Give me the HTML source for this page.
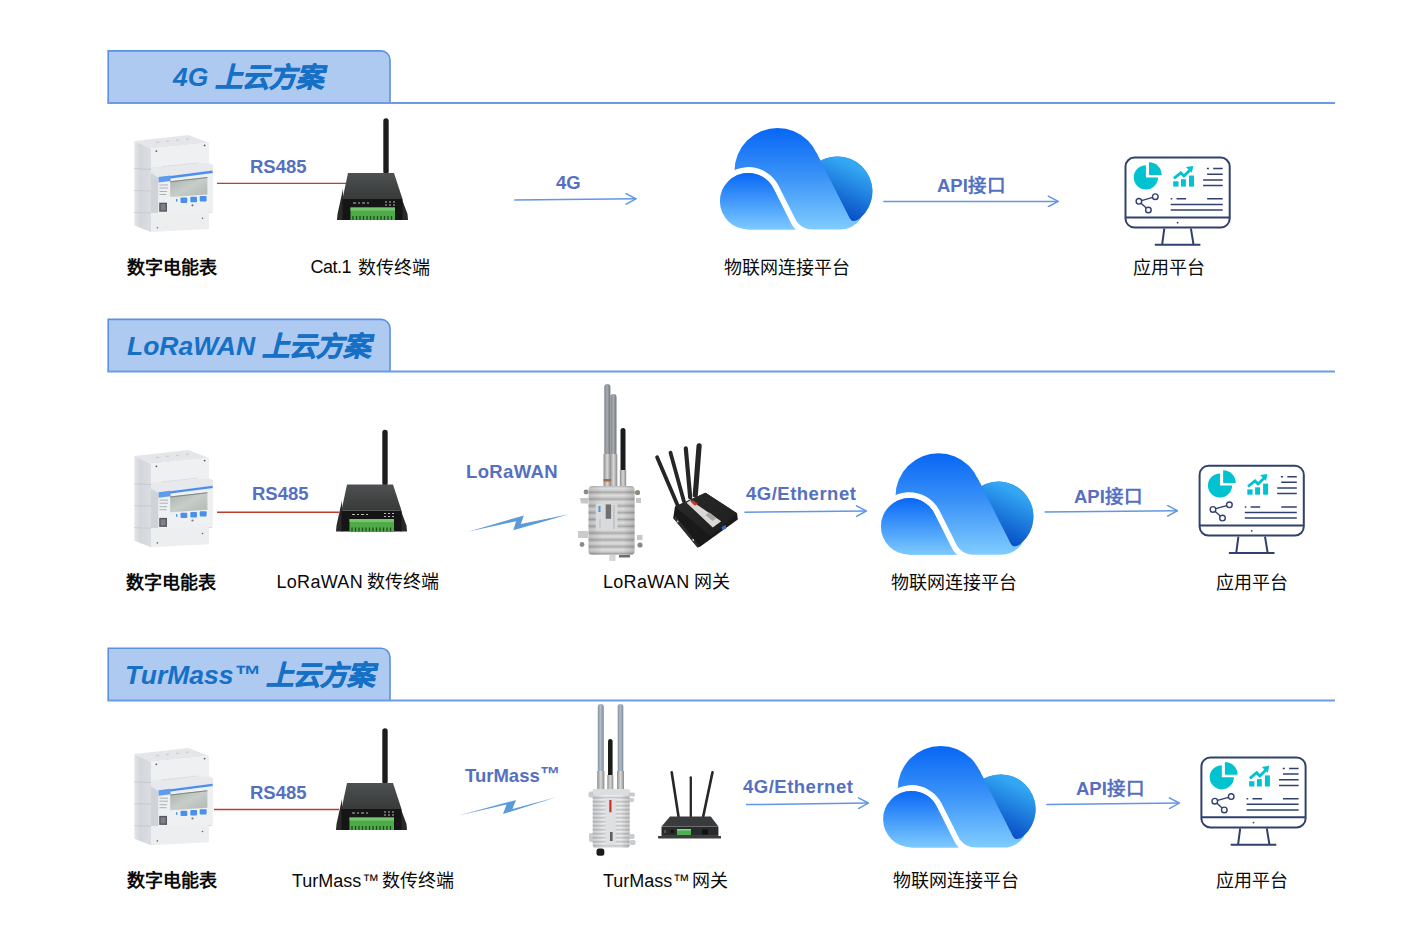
<!DOCTYPE html>
<html lang="zh-CN">
<head>
<meta charset="utf-8">
<style>
html,body{margin:0;padding:0;background:#ffffff;}
body{width:1417px;height:942px;overflow:hidden;position:relative;font-family:"Liberation Sans",sans-serif;}
svg{position:absolute;left:0;top:0;}
.lbl{font-family:"Liberation Sans",sans-serif;font-size:18px;fill:#0a0a0a;}
.b{font-weight:bold;}
.blue{font-family:"Liberation Sans",sans-serif;font-size:18.5px;font-weight:bold;fill:#5570c0;}
.tab{font-family:"Liberation Sans",sans-serif;font-size:26.5px;font-weight:bold;font-style:italic;fill:#1670c5;}
.cn{font-size:27.5px;font-weight:900;stroke:#1670c5;stroke-width:0.7px;}
</style>
</head>
<body>
<svg width="1417" height="942" viewBox="0 0 1417 942">
<defs>
  <!-- tab -->
  <g id="tabshape">
    <path d="M108.2,103 V50.9 H381 A9,9 0 0 1 390,59.9 V103" fill="#aecaf1" stroke="#5b91e2" stroke-width="1.6"/>
    <line x1="107.4" y1="103" x2="1335" y2="103" stroke="#6b9be4" stroke-width="2"/>
  </g>

  <linearGradient id="gMid" gradientUnits="userSpaceOnUse" x1="0" y1="8" x2="0" y2="110">
    <stop offset="0" stop-color="#0766f5"/><stop offset="0.5" stop-color="#3d95f7"/><stop offset="1" stop-color="#80cdff"/>
  </linearGradient>
  <linearGradient id="gLeft" gradientUnits="userSpaceOnUse" x1="0" y1="53" x2="0" y2="110">
    <stop offset="0" stop-color="#0868f5"/><stop offset="1" stop-color="#7ecbff"/>
  </linearGradient>
  <linearGradient id="gDark" gradientUnits="userSpaceOnUse" x1="152" y1="50" x2="128" y2="100">
    <stop offset="0" stop-color="#33a7f4"/><stop offset="1" stop-color="#0345c0"/>
  </linearGradient>
  <g id="cloud">
    <circle cx="67.5" cy="51" r="43" fill="url(#gMid)"/>
    <circle cx="127.4" cy="71.4" r="35" fill="url(#gMid)"/>
    <path d="M38,109.6 L38,60 L105.9,31.7 L127.4,71.4 L151,98.5 Q143,109.6 130,109.6 Z" fill="url(#gMid)"/>
    <path d="M110.5,40.8 A35,35 0 0 1 150.8,97.5 Q146,102.5 141.5,100.5 Q139.5,99 138.3,95.6 Z" fill="url(#gDark)"/>
    <path d="M8.9,70.5 A31.2,31.2 0 0 1 66.1,67.2 L82,99 Q88,113 106,113" fill="none" stroke="#ffffff" stroke-width="5.8"/>
    <path d="M38.2,109.5 A28.3,28.3 0 0 1 38.2,52.9 A28.3,28.3 0 0 1 63.5,68.5 L84.1,109.6 Z" fill="url(#gLeft)"/>
  </g>
  <g id="monitor" fill="none" stroke="#31416d">
    <rect x="10.5" y="7.6" width="104.2" height="69.9" rx="9" stroke-width="2"/>
    <line x1="10.5" y1="67.4" x2="114.7" y2="67.4" stroke-width="2"/>
    <circle cx="62.6" cy="72.7" r="0.9" fill="#31416d" stroke="none"/>
    <path d="M49.3,78.5 L47.2,94.4 M75.9,78.5 L78.5,94.4 M39.8,94.8 H85.4" stroke-width="2"/>
    <path d="M30.9,15.3 A12.1,12.1 0 1 0 43,27.4 L30.9,27.4 Z" fill="#00c3cf" stroke="none"/>
    <path d="M34,12.2 A12.7,12.7 0 0 1 46.7,24.9 L34,24.9 Z" fill="#00c3cf" stroke="none"/>
    <g fill="#00c3cf" stroke="none">
      <rect x="58.2" y="31.3" width="5.3" height="5.3"/>
      <rect x="66" y="29.2" width="4.9" height="7.4"/>
      <rect x="74" y="25.5" width="5" height="11.1"/>
      <path d="M70.9,17 L78.3,15.9 L76.9,22.8 Z"/>
    </g>
    <polyline points="58.9,28.4 65.8,22.8 69,26 75.5,19.5" stroke="#00c3cf" stroke-width="2.8" stroke-linejoin="miter"/>
    <path d="M91.8,18.6 H93.9 M98.2,18.6 H107.7 M92.1,24.2 H107.7 M88.1,29.9 H107.7 M88.1,35.5 H107.7 M55.7,48.8 H57.3 M61.5,48.8 H71.1 M92.1,48.8 H107.7 M55.7,54.4 H107.7 M55.7,60 H107.7" stroke-width="1.5"/>
    <path d="M23.9,51.3 L40.3,46.7 M23.9,51.3 L33.4,60" stroke-width="1.4"/>
    <circle cx="23.9" cy="51.3" r="2.8" fill="#ffffff" stroke-width="1.4"/>
    <circle cx="40.3" cy="46.7" r="2.8" fill="#ffffff" stroke-width="1.4"/>
    <circle cx="33.4" cy="60" r="2.8" fill="#ffffff" stroke-width="1.4"/>
  </g>

  <linearGradient id="gSide" x1="0" y1="0" x2="1" y2="0">
    <stop offset="0" stop-color="#e3e5e8"/><stop offset="0.35" stop-color="#d3d6da"/><stop offset="1" stop-color="#dadde1"/>
  </linearGradient>
  <linearGradient id="gLcd" x1="0" y1="0" x2="1" y2="1">
    <stop offset="0" stop-color="#a9b1ab"/><stop offset="0.5" stop-color="#c7cdc8"/><stop offset="1" stop-color="#b1b9b3"/>
  </linearGradient>
  <g id="meter">
    <path d="M9.4,16.4 L26,24 L26,107.5 L9.4,101 Z" fill="url(#gSide)"/>
    <path d="M9.4,44 L26,45 M9.4,66 L26,66.5 M9.4,88 L26,88.5" stroke="#c4c8ce" stroke-width="0.9"/>
    <path d="M9.4,16.4 L63.4,10.4 L84,18.3 L26,24 Z" fill="#e4e6e9"/>
    <path d="M31,18 L34,17.6 M41,16.9 L44,16.5 M51,15.8 L54,15.4 M61,14.6 L64,14.3" stroke="#c9ccd1" stroke-width="1.2"/>
    <path d="M26,24 L84,18.3 L84,39 L26,42.5 Z" fill="#eff0f2"/>
    <path d="M26,42.5 L84,38.5 L88,40.6 L88,46.3 L33.6,53.3 L26,48.5 Z" fill="#e7e9ec"/>
    <path d="M36.8,42.2 L73.6,38.3" stroke="#d6d9dd" stroke-width="0.8"/>
    <path d="M26,48.5 L33.6,53.3 L33.6,89 L26,88.5 Z" fill="#cfd3d8"/>
    <path d="M33.6,53.3 L88,46.3 L88,88 L33.6,89 Z" fill="#eef0f2"/>
    <path d="M34,54.2 L87.6,47.2" stroke="#4c8ef0" stroke-width="2.4"/>
    <path d="M33.6,52.5 L45.5,51 L45.5,56.6 L33.6,58 Z" fill="#5d9bef"/>
    <path d="M45.2,56.8 L82.4,52.6 L82.4,70 L45.2,72.5 Z" fill="url(#gLcd)"/>
    <path d="M45.2,56.8 L82.4,52.6 L82.4,53.6 L45.2,57.8 Z" fill="#7e8680"/>
    <path d="M34.5,60.5 H43 M34.5,63.5 H43 M34.5,67 H42 M34.5,70 H41.5" stroke="#9aa0a8" stroke-width="0.8"/>
    <rect x="55.5" y="73" width="6.8" height="5.4" rx="1" fill="#4a90e8"/>
    <rect x="65.3" y="72.3" width="6.7" height="5.4" rx="1" fill="#4a90e8"/>
    <rect x="74.7" y="71.5" width="6.9" height="5.4" rx="1" fill="#4a90e8"/>
    <rect x="51" y="74.5" width="1.4" height="2.6" fill="#4a90e8"/>
    <rect x="34.2" y="78.2" width="7.8" height="9" fill="#55595e"/>
    <rect x="35.6" y="79.6" width="5" height="6.2" fill="#7d828a"/>
    <circle cx="67.5" cy="80.8" r="1.1" fill="#777"/>
    <path d="M26,88.5 L84,87 L84,104.5 L26,107.5 Z" fill="#eceef0"/>
    <path d="M84,87 L88,88 L84,88.5 Z" fill="#d5d8dc"/>
    <circle cx="31.4" cy="26.6" r="0.9" fill="#555"/>
    <circle cx="79.6" cy="20.9" r="0.9" fill="#555"/>
    <circle cx="77.5" cy="93.8" r="0.8" fill="#666"/>
    <circle cx="32.4" cy="103.2" r="0.8" fill="#666"/>
  </g>
  <linearGradient id="gDtuTop" x1="0" y1="0" x2="0" y2="1">
    <stop offset="0" stop-color="#4e5151"/><stop offset="1" stop-color="#383a3a"/>
  </linearGradient>
  <g id="dtu">
    <rect x="58.3" y="8.3" width="5.4" height="56" rx="2.7" fill="#1d1d1d"/>
    <path d="M18,79 L12.5,104 L12,110 L18.5,110 Z" fill="#2a2a2a"/>
    <path d="M76.5,88 L82.5,104 L83,110 L76.5,110 Z" fill="#2a2a2a"/>
    <path d="M23,63 L69,63 L77.5,89 L17.5,89 Z" fill="url(#gDtuTop)"/>
    <rect x="17.5" y="89" width="60" height="21" fill="#151515"/>
    <path d="M28,93 H31 M33,93 H35 M37,93 H40 M42,93 H44 M60,92 H62 M64,92 H66 M68,92 H70 M60,95 H62 M64,95 H66 M68,95 H70" stroke="#bbb" stroke-width="1.1"/>
    <rect x="25.5" y="97.5" width="44.5" height="12.5" fill="#4faa48"/>
    <rect x="25.5" y="97.5" width="44.5" height="3" fill="#76c56f"/>
    <path d="M28,106 V110 M31.5,106 V110 M35,106 V110 M38.5,106 V110 M42,106 V110 M45.5,106 V110 M49,106 V110 M52.5,106 V110 M56,106 V110 M59.5,106 V110 M63,106 V110 M66.5,106 V110" stroke="#1f4d1d" stroke-width="1.3"/>
  </g>

  <linearGradient id="gAntG" x1="0" y1="0" x2="1" y2="0">
    <stop offset="0" stop-color="#7b8086"/><stop offset="0.45" stop-color="#a9aeb3"/><stop offset="1" stop-color="#70757b"/>
  </linearGradient>
  <linearGradient id="gAntB" x1="0" y1="0" x2="1" y2="0">
    <stop offset="0" stop-color="#8393a3"/><stop offset="0.45" stop-color="#b0bcc8"/><stop offset="1" stop-color="#7d8b99"/>
  </linearGradient>
  <linearGradient id="gConn" x1="0" y1="0" x2="1" y2="0">
    <stop offset="0" stop-color="#8c8c8c"/><stop offset="0.5" stop-color="#d8d8d8"/><stop offset="1" stop-color="#8a8a8a"/>
  </linearGradient>
  <linearGradient id="gRib" x1="0" y1="0" x2="0" y2="1">
    <stop offset="0" stop-color="#b9b9b9"/><stop offset="0.35" stop-color="#dedede"/><stop offset="0.7" stop-color="#cbcbcb"/><stop offset="1" stop-color="#9d9d9d"/>
  </linearGradient>
  <pattern id="ribs" patternUnits="userSpaceOnUse" x="0" y="486" width="10" height="6.8">
    <rect width="10" height="6.8" fill="url(#gRib)"/>
  </pattern>
  <linearGradient id="gRib2" x1="0" y1="0" x2="0" y2="1">
    <stop offset="0" stop-color="#c4c6c9"/><stop offset="0.4" stop-color="#eceded"/><stop offset="0.75" stop-color="#d9dadc"/><stop offset="1" stop-color="#b2b4b7"/>
  </linearGradient>
  <pattern id="ribs2" patternUnits="userSpaceOnUse" x="0" y="790" width="10" height="4">
    <rect width="10" height="4" fill="url(#gRib2)"/>
  </pattern>
  <linearGradient id="gBoxShade" x1="0" y1="0" x2="1" y2="0">
    <stop offset="0" stop-color="#000" stop-opacity="0.12"/><stop offset="0.3" stop-color="#000" stop-opacity="0"/><stop offset="0.75" stop-color="#000" stop-opacity="0"/><stop offset="1" stop-color="#000" stop-opacity="0.15"/>
  </linearGradient>
  <linearGradient id="gRouterTop" x1="0" y1="0" x2="1" y2="1">
    <stop offset="0" stop-color="#2a2a2b"/><stop offset="1" stop-color="#1d1d1e"/>
  </linearGradient>
  <marker id="ah" viewBox="0 0 12 12" refX="11" refY="6" markerWidth="12" markerHeight="12" markerUnits="userSpaceOnUse" orient="auto">
    <path d="M0.6,0.4 L11,6 L0.6,11.6" fill="none" stroke="#6396e4" stroke-width="1.5"/>
  </marker>
</defs>

<!-- ============ Section 1 ============ -->
<use href="#tabshape"/>
<text class="tab" x="173" y="86">4G</text><text class="tab cn" x="215" y="87">上云方案</text>

<!-- ============ Section 2 ============ -->
<use href="#tabshape" y="268.5"/>
<text class="tab" x="127" y="354.5">LoRaWAN</text><text class="tab cn" x="262" y="355.5">上云方案</text>

<!-- ============ Section 3 ============ -->
<use href="#tabshape" y="597.4"/>
<text class="tab" x="125" y="683.5">TurMass</text><text class="tab" x="234" y="684" font-style="normal" font-size="28">™</text><text class="tab cn" x="266" y="684.5">上云方案</text>

<!-- labels row 1 -->
<text class="lbl b" x="127" y="274">数字电能表</text>
<text class="lbl" x="310.5" y="273"><tspan letter-spacing="-0.5">Cat.1</tspan><tspan x="358" y="274">数传终端</tspan></text>
<text class="lbl" x="724" y="274">物联网连接平台</text>
<text class="lbl" x="1133" y="274">应用平台</text>
<text class="blue" x="250" y="173">RS485</text>
<text class="blue" x="556" y="189">4G</text>
<text class="blue" x="937" y="192">API接口</text>
<line x1="217" y1="183.4" x2="346" y2="183.4" stroke="#bf3b2c" stroke-width="1.4"/>
<line x1="514.3" y1="200" x2="636" y2="198.8" stroke="#6396e4" stroke-width="1.5" marker-end="url(#ah)"/>
<line x1="883.3" y1="201.6" x2="1058.2" y2="201.4" stroke="#6396e4" stroke-width="1.5" marker-end="url(#ah)"/>

<!-- labels row 2 -->
<text class="lbl b" x="126" y="588.7">数字电能表</text>
<text class="lbl" x="276.5" y="587.5"><tspan letter-spacing="0.3">LoRaWAN</tspan><tspan x="367" y="587.7">数传终端</tspan></text>
<text class="lbl" x="603" y="587.5"><tspan letter-spacing="0.3">LoRaWAN</tspan><tspan x="693.8" y="587.7">网关</tspan></text>
<text class="lbl" x="891" y="588.7">物联网连接平台</text>
<text class="lbl" x="1216" y="588.7">应用平台</text>
<text class="blue" x="252" y="500">RS485</text>
<text class="blue" x="466" y="478" letter-spacing="0.35">LoRaWAN</text>
<text class="blue" x="746" y="500" letter-spacing="0.5">4G/Ethernet</text>
<text class="blue" x="1074" y="503">API接口</text>
<line x1="217" y1="512.2" x2="339" y2="512.2" stroke="#bf3b2c" stroke-width="1.4"/>
<line x1="744.4" y1="512.3" x2="866.4" y2="511" stroke="#6396e4" stroke-width="1.5" marker-end="url(#ah)"/>
<line x1="1044.6" y1="511.9" x2="1177.5" y2="510.7" stroke="#6396e4" stroke-width="1.5" marker-end="url(#ah)"/>

<!-- labels row 3 -->
<text class="lbl b" x="127" y="887">数字电能表</text>
<text class="lbl" x="292" y="886.5">TurMass<tspan x="362.3" font-size="17" dy="-1">™</tspan><tspan x="382" y="886.7">数传终端</tspan></text>
<text class="lbl" x="603" y="886.5">TurMass<tspan dx="0.5" font-size="17" dy="-1">™</tspan><tspan x="692" y="886.7">网关</tspan></text>
<text class="lbl" x="893" y="887">物联网连接平台</text>
<text class="lbl" x="1216" y="887">应用平台</text>
<text class="blue" x="250" y="799">RS485</text>
<text class="blue" x="465" y="782">TurMass<tspan dx="0.5" dy="-1" font-size="20">™</tspan></text>
<text class="blue" x="743" y="793" letter-spacing="0.5">4G/Ethernet</text>
<text class="blue" x="1076" y="795">API接口</text>
<line x1="214" y1="809.5" x2="339" y2="809.5" stroke="#bf3b2c" stroke-width="1.4"/>
<line x1="745.9" y1="804.6" x2="868.4" y2="803.1" stroke="#6396e4" stroke-width="1.5" marker-end="url(#ah)"/>
<line x1="1046.3" y1="804.4" x2="1179.3" y2="803.1" stroke="#6396e4" stroke-width="1.5" marker-end="url(#ah)"/>


<!-- clouds -->
<use href="#cloud" transform="translate(710,120)"/>
<use href="#cloud" transform="translate(871,445.2)"/>
<use href="#cloud" transform="translate(873.2,738)"/>
<!-- monitors -->
<use href="#monitor" transform="translate(1115,150)"/>
<use href="#monitor" transform="translate(1189.1,458.1)"/>
<use href="#monitor" transform="translate(1190.9,749.9)"/>

<!-- meters -->
<use href="#meter" transform="translate(125,124.5)"/>
<use href="#meter" transform="translate(125,439.7)"/>
<use href="#meter" transform="translate(125,737.7)"/>
<!-- dtus -->
<use href="#dtu" transform="translate(325,110)"/>
<use href="#dtu" transform="translate(324,421.5)"/>
<use href="#dtu" transform="translate(324,720)"/>

<!-- lightning bolts -->
<path d="M467.9,531.7 L523.8,515.4 L520.9,524 L569.1,514.2 L513.3,530.2 L516.1,521.2 Z" fill="#5b9bd8"/>
<path d="M458.5,815.5 L516,800 L512.5,809 L557,797 L503,814 L506.5,804.5 Z" fill="#5b9bd8"/>

<!-- LoRaWAN outdoor gateway -->
<g>
  <rect x="604.3" y="384" width="6.1" height="72" rx="3" fill="url(#gAntG)"/>
  <rect x="610.4" y="394" width="6.1" height="62" rx="3" fill="url(#gAntG)"/>
  <rect x="603.5" y="454" width="7.5" height="32" fill="url(#gConn)"/>
  <rect x="609.8" y="454" width="7.5" height="32" fill="url(#gConn)"/>
  <rect x="603.5" y="479" width="7.5" height="2.5" fill="#a7674a"/>
  <rect x="620.5" y="428" width="5" height="44" rx="2.5" fill="#1b1b1b"/>
  <rect x="619.8" y="470" width="6.4" height="16" fill="url(#gConn)"/>
  <circle cx="586" cy="492" r="2.4" fill="#8f8a80"/>
  <path d="M580,498 H588 V503.5 H581 Z" fill="#c4c6c8"/>
  <path d="M578,531 H588 V538 H578 Z" fill="#c9cbcd"/>
  <circle cx="582" cy="544.5" r="2.4" fill="#8f8a80"/>
  <circle cx="637.5" cy="492.5" r="2.6" fill="#8f8a80"/>
  <path d="M636,498 H641 V503 H636 Z" fill="#c4c6c8"/>
  <path d="M637,535 H642.5 V540 H637 Z" fill="#c4c6c8"/>
  <circle cx="640" cy="545" r="2.6" fill="#8f8a80"/>
  <rect x="588.5" y="486" width="46.1" height="69" rx="4" fill="url(#ribs)"/>
  <rect x="588.5" y="486" width="46.1" height="69" rx="4" fill="url(#gBoxShade)"/>
  <rect x="595.8" y="503.5" width="21.6" height="27" fill="#d9dadb"/>
  <rect x="598.5" y="506" width="2" height="6" fill="#5b8fd0"/>
  <rect x="605.7" y="504.4" width="5.4" height="14.4" fill="#6e7074"/>
  <path d="M614,505 V529" stroke="#9b9ea2" stroke-width="0.7"/>
  <path d="M600,519 V528" stroke="#a5a7aa" stroke-width="0.6"/>
  <rect x="609.3" y="555" width="6.3" height="6" fill="#d5d7d9"/>
  <rect x="619" y="555" width="11" height="2.5" fill="#6b6d70"/>
</g>

<!-- LoRaWAN router -->
<g>
  <path d="M657.1,457.3 L677.5,505.1" stroke="#262626" stroke-width="3.8" stroke-linecap="round"/>
  <path d="M670.5,452.8 L683.9,501.2" stroke="#262626" stroke-width="3.8" stroke-linecap="round"/>
  <path d="M685.8,448.4 L690.2,497.4" stroke="#262626" stroke-width="4.2" stroke-linecap="round"/>
  <path d="M699.1,445.8 L695.3,494.9" stroke="#262626" stroke-width="5.2" stroke-linecap="round"/>
  <path d="M675,506.5 L705.5,492.8 L737,513.2 L737.8,519.5 L700,546.7 L697.5,547.6 L673.2,518 Z" fill="#19191a"/>
  <path d="M675,506.5 L705.5,492.8 L737,513.2 L711,536.3 Z" fill="url(#gRouterTop)"/>
  <path d="M673.2,518 L697.5,547.6 L699.5,546.2 L675.5,516 Z" fill="#2e2e30"/>
  <path d="M686.5,502.8 L690.5,500.2 L721.2,521.2 L712.8,527.4 Z" fill="#dcd8d5"/>
  <path d="M690.5,501.5 L693,500.2 L697.8,503.8 L694.8,505.8 Z" fill="#d0312d"/>
  <path d="M705.5,515 L709.5,512.5 L716.5,518 L712.5,521 Z" fill="#a9a7a6"/>
  <path d="M721.5,527.2 L725.5,524.8 L726.3,528.2 L722.5,530.5 Z" fill="#2f6fd0"/>
  <circle cx="677.6" cy="521.4" r="0.9" fill="#ddd"/>
  <circle cx="693.2" cy="540" r="0.9" fill="#ddd"/>
</g>

<!-- TurMass outdoor gateway -->
<g>
  <rect x="597.8" y="704" width="6" height="69" rx="3" fill="url(#gAntB)"/>
  <rect x="617.7" y="704" width="5.6" height="69" rx="2.8" fill="url(#gAntB)"/>
  <rect x="597.2" y="771" width="7.2" height="19" fill="url(#gConn)"/>
  <rect x="617" y="771" width="7" height="19" fill="url(#gConn)"/>
  <rect x="608" y="739" width="4.6" height="38" rx="2.3" fill="#1b1b1b"/>
  <rect x="607.3" y="775" width="6" height="15" fill="url(#gConn)"/>
  <rect x="588.5" y="791.5" width="6" height="6" rx="2" fill="#c9cbce"/>
  <rect x="589" y="833" width="5" height="9" rx="2" fill="#c9cbce"/>
  <rect x="629" y="792.5" width="6" height="4" rx="1.5" fill="#c9cbce"/>
  <rect x="629" y="798" width="5" height="4" rx="1.5" fill="#c9cbce"/>
  <rect x="629.5" y="834" width="5" height="5" rx="1.5" fill="#c9cbce"/>
  <rect x="630" y="840" width="5.5" height="5" rx="1.5" fill="#c9cbce"/>
  <rect x="592.7" y="789" width="37" height="59" rx="3" fill="url(#ribs2)"/>
  <rect x="592.7" y="789" width="37" height="59" rx="3" fill="url(#gBoxShade)"/>
  <rect x="592.7" y="789" width="37" height="6" rx="2" fill="#dcdde0"/>
  <rect x="605.5" y="798" width="10.2" height="46" fill="#dfe0e2"/>
  <rect x="609.3" y="800" width="2.2" height="12.3" fill="#c8302a"/>
  <rect x="610" y="832" width="2.6" height="9" fill="#5a5d62"/>
  <rect x="596.5" y="848.5" width="7.8" height="7.2" rx="2.5" fill="#1b1b1b"/>
</g>

<!-- TurMass router -->
<g>
  <path d="M671.7,772.2 L678.5,816.4" stroke="#262626" stroke-width="2.6" stroke-linecap="round"/>
  <path d="M690.8,777.3 L690.8,816.4" stroke="#262626" stroke-width="2.3" stroke-linecap="round"/>
  <path d="M712.5,772.2 L703.2,816.4" stroke="#262626" stroke-width="2.6" stroke-linecap="round"/>
  <path d="M670,816.4 L710.8,816.4 L718.4,826.6 L661.5,826.6 Z" fill="#3a3b3d"/>
  <rect x="661.5" y="826.6" width="56.9" height="9.3" fill="#2a2b2d"/>
  <path d="M658.1,835.9 H721 V838.4 H658.1 Z" fill="#3c3d3f"/>
  <rect x="677" y="830" width="14" height="5" fill="#4caf50"/>
  <rect x="677" y="829" width="14" height="1.5" fill="#8bd08b"/>
  <rect x="702" y="829.5" width="6" height="5" fill="#111"/>
  <rect x="671" y="830" width="3" height="3" fill="#111"/>
  <rect x="664" y="830" width="2" height="3" fill="#555"/>
</g>
</svg>
</body>
</html>
